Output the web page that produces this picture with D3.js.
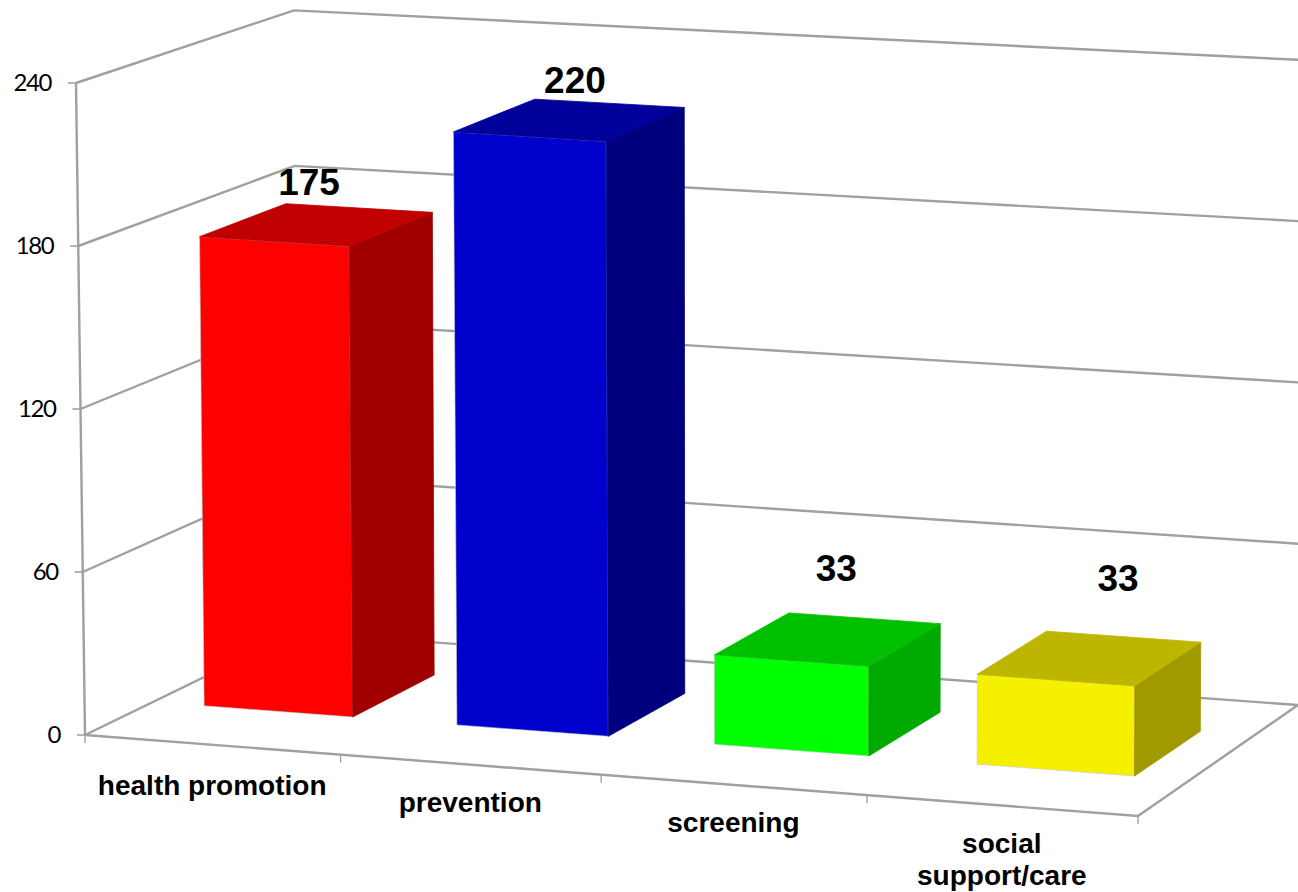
<!DOCTYPE html>
<html>
<head>
<meta charset="utf-8">
<script src="https://cdn.jsdelivr.net/npm/d3@7"></script>
<style>
  html, body { margin: 0; padding: 0; background: #fff; }
  svg { display: block; }
</style>
</head>
<body>
<div id="chart"></div>
<script>
// Chart content
const categories = ["health promotion", "prevention", "screening", "social support/care"];
const categoryLines = [["health promotion"], ["prevention"], ["screening"], ["social", "support/care"]];
const values = [175, 220, 33, 33];
const valueTicks = [0, 60, 120, 180, 240];
const frontColors = ["#ff0000", "#0000cd", "#00ff00", "#f5f000"];
const sideColors = ["#a00000", "#00007f", "#00aa00", "#a09900"];
const topColors = ["#c00000", "#00009a", "#00c000", "#bdb500"];

const width = 1298, height = 892;

// Floor corners on screen: front-left, front-right, back-right, back-left.
const floorQuad = [[85, 735], [1138, 816], [1298, 705], [296, 632.4]];
// Screen vector from floor to the top of the value axis at those same corners.
const riseAtCorners = [[-9, -652], [3, -662], [4, -645], [-2, -622]];

// Offsets of the data labels from the centre of each bar's top face.
const labelOffsets = [[-8, -30], [5, -27], [8, -58], [28, -67]];
// Distance of each category label's baseline below the front edge.
const categoryLabelDrop = [50, 47, 47, 47];

// Perspective mapping of the unit square onto a screen quadrilateral.
function quadMapping(q) {
  const [[x0, y0], [x1, y1], [x2, y2], [x3, y3]] = q;
  const dx1 = x1 - x2, dx2 = x3 - x2, sx = x0 - x1 + x2 - x3;
  const dy1 = y1 - y2, dy2 = y3 - y2, sy = y0 - y1 + y2 - y3;
  const den = dx1 * dy2 - dx2 * dy1;
  const g = (sx * dy2 - dx2 * sy) / den;
  const h = (dx1 * sy - sx * dy1) / den;
  const a = x1 - x0 + g * x1, b = x3 - x0 + h * x3;
  const d = y1 - y0 + g * y1, e = y3 - y0 + h * y3;
  return (u, v) => {
    const w = g * u + h * v + 1;
    return [(a * u + b * v + x0) / w, (d * u + e * v + y0) / w];
  };
}

const floorMap = quadMapping(floorQuad);

const valueScale = d3.scaleLinear().domain([0, 240]).range([0, 1]);
const bandScale = d3.scaleBand().domain(categories).range([0, 1]).paddingInner(0.41).paddingOuter(0.205);
const depthStart = 0.31, depthEnd = 0.715;

// Full-height rise vector at a floor position, blended from the four corners.
function rise(u, v) {
  const [a, b, c, e] = riseAtCorners;
  const blend = k => (a[k] * (1 - u) + b[k] * u) * (1 - v) + (e[k] * (1 - u) + c[k] * u) * v;
  return [blend(0), blend(1)];
}

// Screen position of a point given across-axis u, depth v and data value.
function project(u, v, value) {
  const t = valueScale(value);
  const p = floorMap(u, v), s = rise(u, v);
  return [p[0] + s[0] * t, p[1] + s[1] * t];
}

const line = d3.line();
const closed = pts => line(pts) + "Z";

const svg = d3.select("#chart").append("svg")
  .attr("width", width).attr("height", height)
  .attr("viewBox", [0, 0, width, height]);

const axisColor = "#a0a0a0";
const axisWidth = 2.4;

// Gridlines run along the side wall and the back wall.
svg.append("g").selectAll("path").data(valueTicks).join("path")
  .attr("d", d => line([project(0, 0, d), project(0, 1, d), project(1, 1, d)]))
  .attr("fill", "none").attr("stroke", axisColor).attr("stroke-width", axisWidth);

// Front edge of the floor, its right edge and the vertical axis.
svg.append("path")
  .attr("d", line([project(0, 0, 0), project(1, 0, 0), project(1, 1, 0)]))
  .attr("fill", "none").attr("stroke", axisColor).attr("stroke-width", axisWidth);
svg.append("path")
  .attr("d", line([project(0, 0, 0), project(0, 0, 240)]))
  .attr("fill", "none").attr("stroke", axisColor).attr("stroke-width", axisWidth);

// Value axis ticks and labels.
const yTicks = svg.append("g").selectAll("g").data(valueTicks).join("g")
  .attr("transform", d => `translate(${project(0, 0, d)})`);
yTicks.append("line").attr("x1", -8).attr("x2", 0)
  .attr("stroke", axisColor).attr("stroke-width", 1.6);
yTicks.append("text").text(d => d)
  .attr("x", -25).attr("y", 8)
  .attr("text-anchor", "end")
  .attr("letter-spacing", -1.4)
  .attr("font-family", "Lato, 'Open Sans', sans-serif")
  .attr("font-size", 24)
  .attr("fill", "#000");

// Category ticks below the front edge.
svg.append("g").selectAll("line").data(d3.range(categories.length + 1)).join("line")
  .attr("x1", i => project(i / categories.length, 0, 0)[0])
  .attr("x2", i => project(i / categories.length, 0, 0)[0])
  .attr("y1", i => project(i / categories.length, 0, 0)[1])
  .attr("y2", i => project(i / categories.length, 0, 0)[1] + 8)
  .attr("stroke", axisColor).attr("stroke-width", 1.4);

// Bars: front, side and top faces, left to right.
const barData = values.map((value, i) => ({ value, i, cat: categories[i] }));
const bars = svg.append("g").selectAll("g").data(barData).join("g");

const uRange = d => [bandScale(d.cat), bandScale(d.cat) + bandScale.bandwidth()];

bars.append("path").attr("fill", d => frontColors[d.i])
  .attr("stroke", "#c8c8c8").attr("stroke-width", 0.6)
  .attr("d", d => {
    const [u0, u1] = uRange(d);
    return closed([project(u0, depthStart, 0), project(u1, depthStart, 0),
                   project(u1, depthStart, d.value), project(u0, depthStart, d.value)]);
  });
bars.append("path").attr("fill", d => sideColors[d.i])
  .attr("stroke", d => sideColors[d.i]).attr("stroke-width", 0.8)
  .attr("d", d => {
    const [, u1] = uRange(d);
    return closed([project(u1, depthStart, 0), project(u1, depthEnd, 0),
                   project(u1, depthEnd, d.value), project(u1, depthStart, d.value)]);
  });
bars.append("path").attr("fill", d => topColors[d.i])
  .attr("stroke", d => topColors[d.i]).attr("stroke-width", 0.8)
  .attr("d", d => {
    const [u0, u1] = uRange(d);
    return closed([project(u0, depthStart, d.value), project(u1, depthStart, d.value),
                   project(u1, depthEnd, d.value), project(u0, depthEnd, d.value)]);
  });

// Value labels above the bars.
svg.append("g").selectAll("text").data(barData).join("text")
  .text(d => d.value)
  .attr("transform", d => {
    const [u0, u1] = uRange(d);
    const p = project((u0 + u1) / 2, (depthStart + depthEnd) / 2, d.value);
    return `translate(${p[0] + labelOffsets[d.i][0]},${p[1] + labelOffsets[d.i][1]})`;
  })
  .attr("text-anchor", "middle")
  .attr("font-family", "'Liberation Sans', Arial, sans-serif")
  .attr("font-weight", "bold")
  .attr("font-size", 37)
  .attr("fill", "#000");

// Category labels under the front edge.
const catLabels = svg.append("g").selectAll("text").data(categories).join("text")
  .attr("text-anchor", "middle")
  .attr("font-family", "'Liberation Sans', Arial, sans-serif")
  .attr("font-weight", "bold")
  .attr("font-size", 28)
  .attr("fill", "#000")
  .attr("transform", (d, i) => {
    const p = project(bandScale(d) + bandScale.bandwidth() / 2, 0, 0);
    return `translate(${p[0]},${p[1] + categoryLabelDrop[i]})`;
  });
catLabels.selectAll("tspan").data((d, i) => categoryLines[i]).join("tspan")
  .attr("x", 0)
  .attr("dy", (d, i) => (i ? 32 : 0))
  .text(d => d);
</script>
</body>
</html>
